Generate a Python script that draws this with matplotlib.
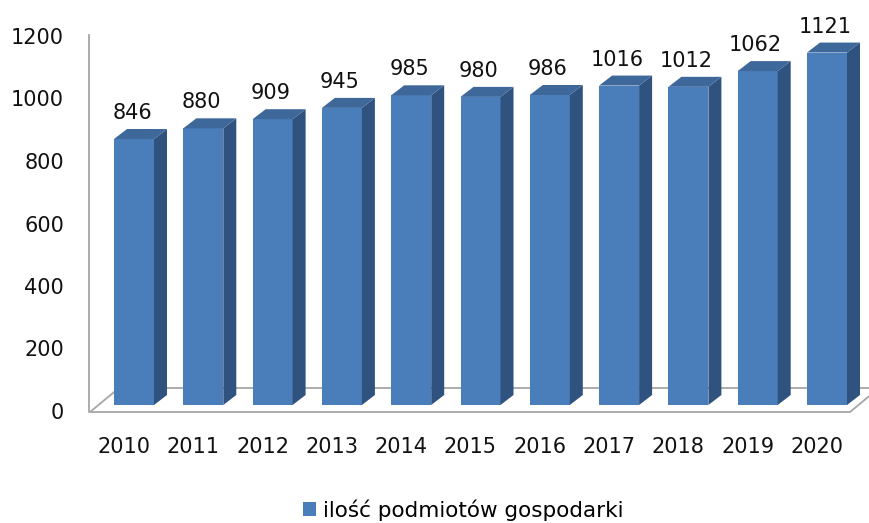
import matplotlib
matplotlib.use("Agg")
import matplotlib.pyplot as plt
import numpy as np
from matplotlib.patches import Polygon

years = ["2010", "2011", "2012", "2013", "2014", "2015", "2016", "2017", "2018", "2019", "2020"]
counts = [846, 880, 909, 945, 985, 980, 986, 1016, 1012, 1062, 1121]
y_ticks = [0, 200, 400, 600, 800, 1000, 1200]
series_name = "ilość podmiotów gospodarki"

FRONT = "#4A7EBB"
SIDE = "#30527F"
TOP = "#3E679A"
GRID = "#A6A6A6"

plt.rcParams["font.family"] = ["DejaVu Sans"]

fig = plt.figure(figsize=(8.69, 5.23), dpi=100)
ax = fig.add_axes([0, 0, 1, 1])

# pixel layout: bar i front centre at 134 + 69.3*i px, zero at 405 px from top
px_per_cat = 69.3
px_per_val = 0.3144
ax.set_xlim(-134 / px_per_cat, (869 - 134) / px_per_cat)
ax.set_ylim((405 - 523) / px_per_val, 405 / px_per_val)
ax.axis("off")

def px2x(px):
    return (px - 134) / px_per_cat

def py2v(py):
    return (405 - py) / px_per_val

# floor (parallelogram) and left wall line
fx0, fx1 = px2x(90), px2x(850)
fy = py2v(412)
ddx = 29 / px_per_cat
ddy = 24 / px_per_val
floor = Polygon([(fx0, fy), (fx1, fy), (fx1 + ddx, fy + ddy), (fx0 + ddx, fy + ddy)],
                closed=True, facecolor="white", edgecolor=GRID, lw=1.3, zorder=1)
ax.add_patch(floor)
ax.plot([px2x(89), px2x(89)], [fy, py2v(35)], color=GRID, lw=1.3, zorder=1)

x = np.arange(len(years))
w = 40 / px_per_cat
sdx = 13 / px_per_cat
sdy = 10 / px_per_val

bars = ax.bar(x, counts, width=w, color=FRONT, edgecolor="none", zorder=3,
              label=series_name)
for xi, v in zip(x, counts):
    r = xi + w / 2
    l = xi - w / 2
    ax.add_patch(Polygon([(r, 0), (r + sdx, sdy), (r + sdx, v + sdy), (r, v)],
                         closed=True, facecolor=SIDE, edgecolor="none", zorder=3))
    ax.add_patch(Polygon([(l, v), (r, v), (r + sdx, v + sdy), (l + sdx, v + sdy)],
                         closed=True, facecolor=TOP, edgecolor="none", zorder=3))
    ax.text(xi - 2 / px_per_cat, v + 26 / px_per_val, str(v), ha="center", va="center",
            fontsize=15, color="#111111", zorder=5)

# category labels
for xi, lab in zip(x, years):
    ax.text(xi - 10 / px_per_cat, py2v(447), lab, ha="center", va="center",
            fontsize=15, color="#111111")

# value axis labels
for t in y_ticks:
    ax.text(px2x(64), py2v(413) + t * (375 / 1200) / px_per_val, str(t),
            ha="right", va="center", fontsize=15, color="#111111")

fig.legend(handles=[bars], labels=[series_name], loc="center",
           bbox_to_anchor=(0.533, 0.025), frameon=False, fontsize=15.5,
           handlelength=0.6, handleheight=0.6, handletextpad=0.3)

fig.savefig("out.png", dpi=100)
